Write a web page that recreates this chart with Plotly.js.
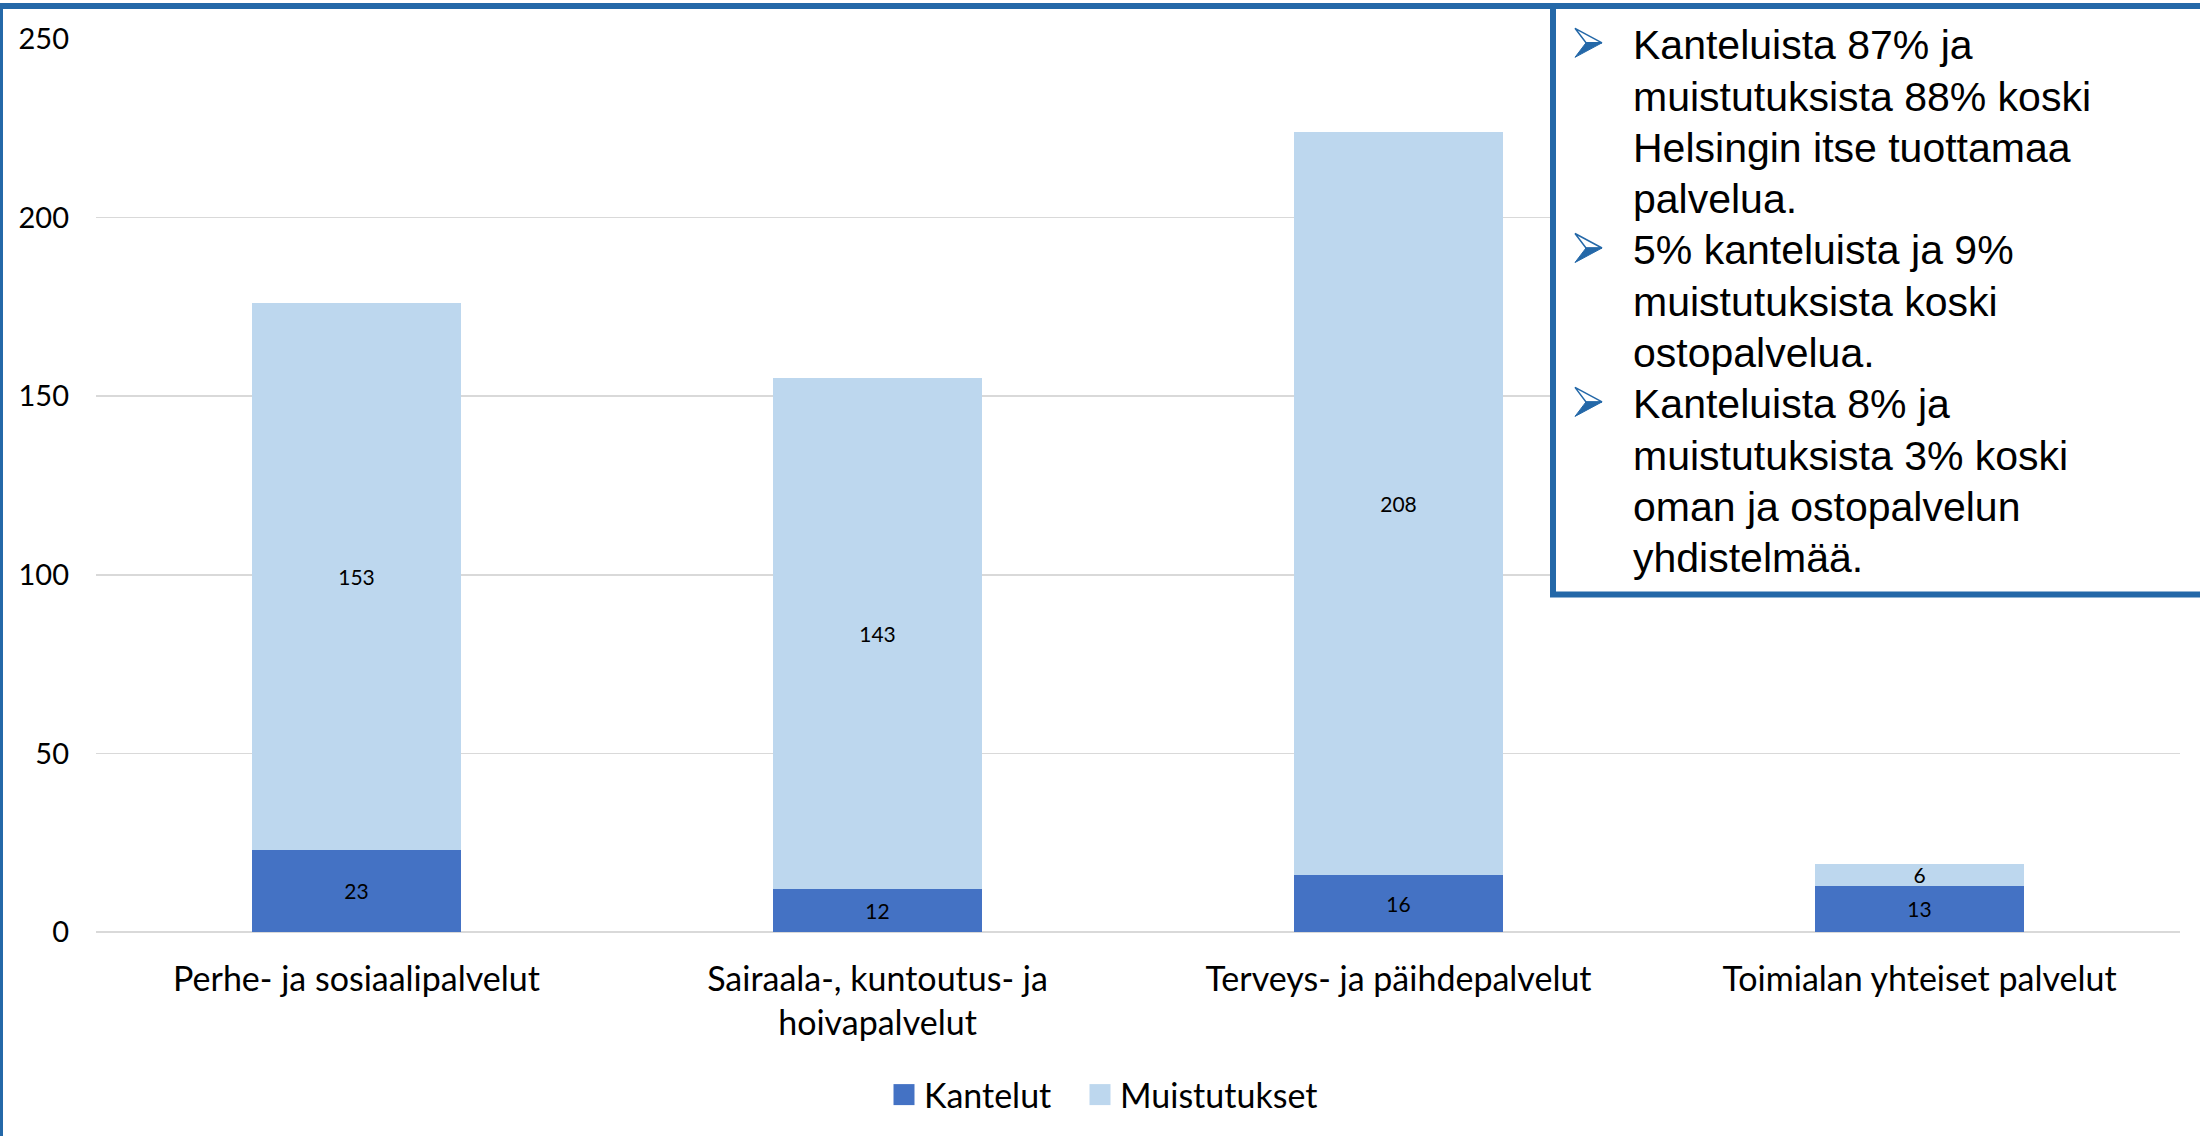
<!DOCTYPE html>
<html>
<head>
<meta charset="utf-8">
<script src="https://cdn.plot.ly/plotly-3.0.1.min.js"></script>
<style>
  html, body { margin: 0; padding: 0; background: #ffffff; }
  #chart { width: 2200px; height: 1136px; }
</style>
</head>
<body>
<div id="chart"></div>
<script>
// ---- data ----
const categories = [
  'Perhe- ja sosiaalipalvelut',
  'Sairaala-, kuntoutus- ja<br>hoivapalvelut',
  'Terveys- ja päihdepalvelut',
  'Toimialan yhteiset palvelut'
];
const kantelut = [23, 12, 16, 13];
const muistutukset = [153, 143, 208, 6];
const seriesNames = ['Kantelut', 'Muistutukset'];
const yTickValues = [0, 50, 100, 150, 200, 250];

const noteLines = [
  ['Kanteluista 87% ja', 'muistutuksista 88% koski', 'Helsingin itse tuottamaa', 'palvelua.'],
  ['5% kanteluista ja 9%', 'muistutuksista koski', 'ostopalvelua.'],
  ['Kanteluista 8% ja', 'muistutuksista 3% koski', 'oman ja ostopalvelun', 'yhdistelmää.']
];

// ---- layout geometry (pixels) ----
const W = 2200, H = 1136;
const M = { l: 96, r: 20, t: 39, b: 204 };
const PW = W - M.l - M.r, PH = H - M.t - M.b;
const px = x => (x - M.l) / PW;
const py = y => (H - M.b - y) / PH;

const BLUE = '#2468A8';
const calibriLike = 'Lato, "Open Sans", sans-serif';
const arialLike = '"Liberation Sans", Arial, sans-serif';

const traces = [
  {
    type: 'bar', name: seriesNames[0], x: categories, y: kantelut,
    marker: { color: '#4472C4' }, legend: 'legend',
    text: kantelut.map(String), textposition: 'inside', insidetextanchor: 'middle',
    constraintext: 'none', textangle: 0,
    textfont: { family: calibriLike, size: 21, color: '#000000' },
    hoverinfo: 'skip'
  },
  {
    type: 'bar', name: seriesNames[1], x: categories, y: muistutukset,
    marker: { color: '#BDD7EE' }, legend: 'legend2',
    text: muistutukset.map(String), textposition: 'inside', insidetextanchor: 'middle',
    constraintext: 'none', textangle: 0,
    textfont: { family: calibriLike, size: 21, color: '#000000' },
    hoverinfo: 'skip'
  }
];

// text box annotations and bullet arrows
const annotations = [];
const shapes = [
  // outer frame (top and left edges visible)
  { type: 'rect', xref: 'paper', yref: 'paper', layer: 'above',
    x0: px(0), x1: px(2400), y0: py(2000), y1: py(6),
    line: { color: BLUE, width: 6 }, fillcolor: 'rgba(0,0,0,0)' },
  // text box
  { type: 'rect', xref: 'paper', yref: 'paper', layer: 'above',
    x0: px(1553), x1: px(2400), y0: py(594.5), y1: py(6),
    line: { color: BLUE, width: 6 }, fillcolor: '#ffffff' }
];
const P = (x, y) => px(x) + ',' + py(y);
function arrowShapes(cy) {
  const tl = P(1575, cy - 14.5), tip = P(1602, cy), bl = P(1575, cy + 14.5), notch = P(1586, cy);
  return [
    { type: 'path', xref: 'paper', yref: 'paper', layer: 'above',
      path: 'M' + tl + 'L' + tip + 'L' + notch + 'Z',
      fillcolor: '#ffffff', line: { color: BLUE, width: 1.5 } },
    { type: 'path', xref: 'paper', yref: 'paper', layer: 'above',
      path: 'M' + notch + 'L' + tip + 'L' + bl + 'Z',
      fillcolor: BLUE, line: { color: BLUE, width: 1 } }
  ];
}
const lineStep = 51.3;
let lineIdx = 0;
noteLines.forEach(group => {
  group.forEach((t, i) => {
    const baseline = 57.3 + lineStep * lineIdx;
    if (i === 0) shapes.push(...arrowShapes(baseline - 14.5));
    annotations.push({
      xref: 'paper', yref: 'paper', x: px(1631), y: py(baseline - 12),
      xanchor: 'left', yanchor: 'middle', showarrow: false,
      text: t, font: { family: arialLike, size: 41, color: '#000000' }
    });
    lineIdx++;
  });
});

const legendFont = { family: calibriLike, size: 34, color: '#000000' };
const layout = {
  width: W, height: H,
  margin: M,
  paper_bgcolor: '#ffffff', plot_bgcolor: '#ffffff',
  barmode: 'stack', bargap: 0.6,
  showlegend: true,
  legend: {
    orientation: 'h', xanchor: 'left', yanchor: 'middle',
    x: px(884), y: py(1095), font: legendFont, bgcolor: 'rgba(0,0,0,0)'
  },
  legend2: {
    orientation: 'h', xanchor: 'left', yanchor: 'middle',
    x: px(1080), y: py(1095), font: legendFont, bgcolor: 'rgba(0,0,0,0)'
  },
  xaxis: {
    type: 'category', showgrid: false, showline: false, zeroline: false,
    ticks: '', tickfont: { family: calibriLike, size: 34, color: '#000000' },
    ticklabelstandoff: 24, fixedrange: true
  },
  yaxis: {
    range: [0, 250], tickvals: yTickValues, ticktext: yTickValues.map(String),
    showgrid: true, gridcolor: '#D9D9D9', gridwidth: 1.5,
    zeroline: true, zerolinecolor: '#D9D9D9', zerolinewidth: 1.5,
    showline: false, ticks: '',
    tickfont: { family: calibriLike, size: 29, color: '#000000' },
    ticklabelstandoff: 26, fixedrange: true
  },
  annotations: annotations,
  shapes: shapes,
  font: { family: calibriLike, color: '#000000' }
};

Plotly.newPlot('chart', traces, layout, { displayModeBar: false, staticPlot: true }).then(() => {
  document.querySelectorAll('.legendpoints path').forEach(p => {
    p.setAttribute('d', 'M10.5,10.5H-10.5V-10.5H10.5Z');
  });
});
</script>
</body>
</html>
